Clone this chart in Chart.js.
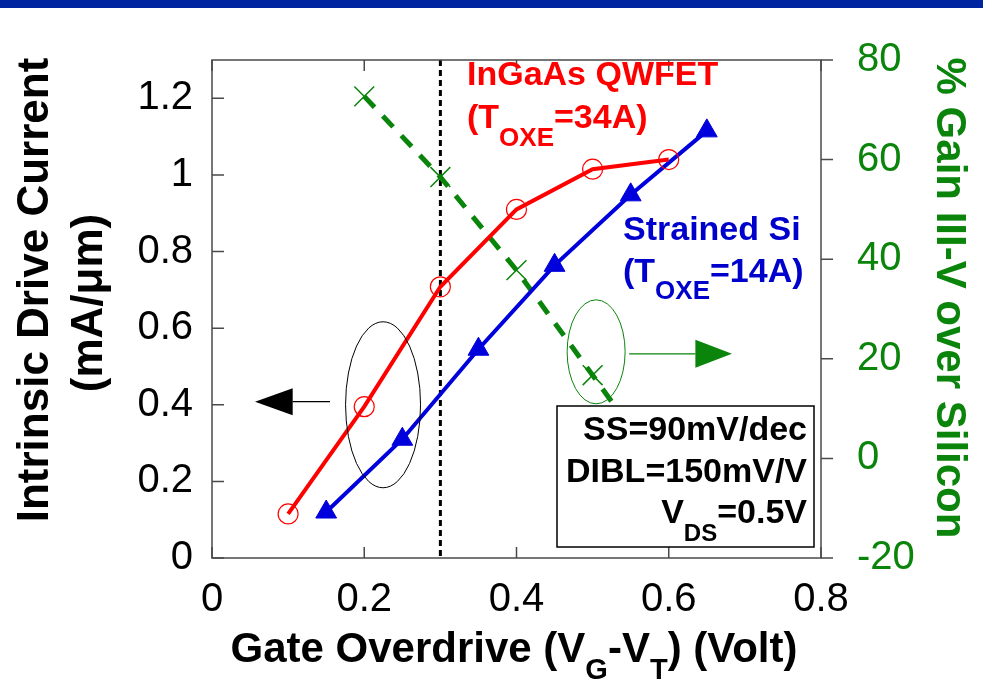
<!DOCTYPE html>
<html>
<head>
<meta charset="utf-8">
<title>Intrinsic drive current vs gate overdrive</title>
<script src="https://cdn.jsdelivr.net/npm/chart.js@4/dist/chart.umd.min.js"></script>
<style>
  html, body { margin: 0; padding: 0; background: #fff; }
  #banner { position: absolute; left: 0; top: 0; width: 983px; height: 8px; background: #0025a0; }
  canvas { display: block; }
</style>
</head>
<body>
<div id="banner"></div>
<canvas id="driveChart" width="983" height="685"></canvas>
<script>
// InGaAs QWFET (Toxe = 34A)
const inGaAsVolts = [0.1, 0.2, 0.3, 0.4, 0.5, 0.6];
const inGaAsCurrent = [0.115, 0.395, 0.708, 0.91, 1.015, 1.04];

// Strained Si (Toxe = 14A)
const siVolts = [0.15, 0.25, 0.35, 0.45, 0.55, 0.65];
const siCurrent = [0.12, 0.31, 0.545, 0.764, 0.948, 1.115];

// % gain of III-V over silicon (last point sits under the legend box)
const gainVolts = [0.2, 0.3, 0.4, 0.5, 0.6];
const gainPct = [72.7, 56.5, 37.8, 16.7, -4.5];

const voltTicks = [0, 0.2, 0.4, 0.6, 0.8];
const currentTicks = [0, 0.2, 0.4, 0.6, 0.8, 1, 1.2];
const gainTicks = [-20, 0, 20, 40, 60, 80];

const refVoltage = 0.3;

const FONT = 'Arial, "Liberation Sans", Helvetica, sans-serif';
const RED = '#ff0000';
const BLUE = '#0000dd';
const GREEN = '#0a840a';

const toPoints = (xs, ys) => xs.map((x, i) => ({ x, y: ys[i] }));
const fixTicks = arr => scale => { scale.ticks = arr.map(v => ({ value: v })); };
const plainNum = v => String(Number(v.toFixed(2)));

// draws a line of text made of runs, some of them subscripted
function drawRuns(ctx, x, y, runs, color, align) {
  ctx.fillStyle = color;
  ctx.textBaseline = 'alphabetic';
  ctx.textAlign = 'left';
  let total = 0;
  runs.forEach(r => { ctx.font = r.font; total += ctx.measureText(r.text).width; });
  let cx = align === 'right' ? x - total : align === 'center' ? x - total / 2 : x;
  runs.forEach(r => {
    ctx.font = r.font;
    ctx.fillText(r.text, cx, y + (r.dy || 0));
    cx += ctx.measureText(r.text).width;
  });
}

const big = 'bold 34px ' + FONT;
const sub = 'bold 26px ' + FONT;

const decorations = {
  id: 'decorations',
  beforeDatasetsDraw(chart) {
    const { ctx, chartArea: a, scales } = chart;
    const x = scales.x, y = scales.y, y2 = scales.y2;
    ctx.save();

    // dashed reference line
    ctx.strokeStyle = '#000';
    ctx.lineWidth = 3;
    ctx.setLineDash([6, 4]);
    const xr = x.getPixelForValue(refVoltage);
    ctx.beginPath();
    ctx.moveTo(xr, a.top);
    ctx.lineTo(xr, a.bottom);
    ctx.stroke();
    ctx.setLineDash([]);

    // frame
    ctx.strokeStyle = '#4a4a4a';
    ctx.lineWidth = 1.5;
    ctx.strokeRect(a.left, a.top, a.right - a.left, a.bottom - a.top);

    // tick marks: inward on left/top/bottom, outward on right
    ctx.beginPath();
    voltTicks.forEach(v => {
      const px = x.getPixelForValue(v);
      ctx.moveTo(px, a.bottom); ctx.lineTo(px, a.bottom - 11);
      ctx.moveTo(px, a.top); ctx.lineTo(px, a.top + 11);
    });
    currentTicks.forEach(v => {
      const py = y.getPixelForValue(v);
      ctx.moveTo(a.left, py); ctx.lineTo(a.left + 12, py);
    });
    gainTicks.forEach(v => {
      const py = y2.getPixelForValue(v);
      ctx.moveTo(a.right, py); ctx.lineTo(a.right + 12, py);
    });
    ctx.stroke();
    ctx.restore();
  },
  afterDatasetsDraw(chart) {
    const { ctx, chartArea: a, scales } = chart;
    const x = scales.x, y = scales.y, y2 = scales.y2;
    ctx.save();

    // ellipse round the current curves, arrow to the left axis
    ctx.lineWidth = 1;
    ctx.strokeStyle = '#000';
    ctx.beginPath();
    ctx.ellipse(x.getPixelForValue(0.2247), y.getPixelForValue(0.40), 37.5, 83, 0, 0, Math.PI * 2);
    ctx.stroke();
    const ly = y.getPixelForValue(0.408);
    ctx.lineWidth = 1.3;
    ctx.beginPath();
    ctx.moveTo(x.getPixelForValue(0.155), ly);
    ctx.lineTo(x.getPixelForValue(0.106), ly);
    ctx.stroke();
    ctx.fillStyle = '#000';
    ctx.beginPath();
    ctx.moveTo(x.getPixelForValue(0.0565), ly);
    ctx.lineTo(x.getPixelForValue(0.106), ly - 13.5);
    ctx.lineTo(x.getPixelForValue(0.106), ly + 13.5);
    ctx.closePath();
    ctx.fill();

    // ellipse round the gain curve, arrow to the right axis
    ctx.strokeStyle = GREEN;
    ctx.lineWidth = 1;
    ctx.beginPath();
    ctx.ellipse(x.getPixelForValue(0.5046), y2.getPixelForValue(21.4), 29, 52, 0, 0, Math.PI * 2);
    ctx.stroke();
    const gy = y2.getPixelForValue(21.0);
    ctx.lineWidth = 1.3;
    ctx.beginPath();
    ctx.moveTo(x.getPixelForValue(0.548), gy);
    ctx.lineTo(x.getPixelForValue(0.635), gy);
    ctx.stroke();
    ctx.fillStyle = GREEN;
    ctx.beginPath();
    ctx.moveTo(x.getPixelForValue(0.683), gy);
    ctx.lineTo(x.getPixelForValue(0.635), gy - 14);
    ctx.lineTo(x.getPixelForValue(0.635), gy + 14);
    ctx.closePath();
    ctx.fill();

    // conditions box
    ctx.fillStyle = '#fff';
    ctx.fillRect(557, 406, 257, 141);
    ctx.strokeStyle = '#000';
    ctx.lineWidth = 1.5;
    ctx.strokeRect(557, 406, 257, 141);
    drawRuns(ctx, 807, 440, [{ text: 'SS=90mV/dec', font: big }], '#000', 'right');
    drawRuns(ctx, 807, 482, [{ text: 'DIBL=150mV/V', font: big }], '#000', 'right');
    drawRuns(ctx, 807, 523, [
      { text: 'V', font: big },
      { text: 'DS', font: 'bold 24px ' + FONT, dy: 18 },
      { text: '=0.5V', font: big }
    ], '#000', 'right');

    // series labels
    drawRuns(ctx, 467, 85, [{ text: 'InGaAs QWFET', font: big }], RED, 'left');
    drawRuns(ctx, 467, 128, [
      { text: '(T', font: big },
      { text: 'OXE', font: sub, dy: 18 },
      { text: '=34A)', font: big }
    ], RED, 'left');
    drawRuns(ctx, 623, 240, [{ text: 'Strained Si', font: big }], '#0000cc', 'left');
    drawRuns(ctx, 623, 282, [
      { text: '(T', font: big },
      { text: 'OXE', font: sub, dy: 17 },
      { text: '=14A)', font: big }
    ], '#0000cc', 'left');

    // axis titles
    const title = 'bold 42px ' + FONT;
    drawRuns(ctx, 514, 662, [
      { text: 'Gate Overdrive (V', font: title },
      { text: 'G', font: 'bold 29px ' + FONT, dy: 17 },
      { text: '-V', font: title },
      { text: 'T', font: 'bold 29px ' + FONT, dy: 17 },
      { text: ') (Volt)', font: title }
    ], '#000', 'center');

    const leftTitle = 'bold 44px ' + FONT;
    ctx.save();
    ctx.translate(48, 290);
    ctx.rotate(-Math.PI / 2);
    drawRuns(ctx, 0, 0, [{ text: 'Intrinsic Drive Current', font: leftTitle }], '#000', 'center');
    ctx.restore();
    ctx.save();
    ctx.translate(102, 303);
    ctx.rotate(-Math.PI / 2);
    drawRuns(ctx, 0, 0, [{ text: '(mA/\u03bcm)', font: leftTitle }], '#000', 'center');
    ctx.restore();
    ctx.save();
    ctx.translate(937, 298);
    ctx.rotate(Math.PI / 2);
    drawRuns(ctx, 0, 0, [{ text: '% Gain III-V over Silicon', font: title }], GREEN, 'center');
    ctx.restore();

    ctx.restore();
  }
};

new Chart(document.getElementById('driveChart'), {
  type: 'scatter',
  data: {
    datasets: [
      {
        label: 'InGaAs QWFET',
        data: toPoints(inGaAsVolts, inGaAsCurrent),
        yAxisID: 'y',
        showLine: true,
        borderColor: RED,
        borderWidth: 4,
        pointStyle: 'circle',
        pointRadius: 10,
        pointBorderWidth: 1.2,
        pointBorderColor: RED,
        pointBackgroundColor: 'rgba(0,0,0,0)'
      },
      {
        label: 'Strained Si',
        data: toPoints(siVolts, siCurrent),
        yAxisID: 'y',
        showLine: true,
        borderColor: BLUE,
        borderWidth: 4,
        pointStyle: 'triangle',
        pointRadius: 12,
        pointBorderWidth: 1,
        pointBorderColor: BLUE,
        pointBackgroundColor: BLUE
      },
      {
        label: '% Gain III-V over Silicon',
        data: toPoints(gainVolts, gainPct),
        yAxisID: 'y2',
        showLine: true,
        borderColor: GREEN,
        borderWidth: 5,
        borderDash: [15, 12],
        pointStyle: 'crossRot',
        pointRadius: [14, 14, 14, 14, 0],
        pointBorderWidth: 1.5,
        pointBorderColor: GREEN
      }
    ]
  },
  options: {
    responsive: false,
    animation: false,
    devicePixelRatio: 1,
    layout: { padding: { top: 51, left: 0, right: 0, bottom: 0 } },
    plugins: { legend: { display: false }, tooltip: { enabled: false } },
    scales: {
      x: {
        type: 'linear',
        min: 0, max: 0.8,
        afterBuildTicks: fixTicks(voltTicks),
        afterFit: s => { s.height = 127; },
        grid: { display: false, drawTicks: false },
        border: { display: false },
        ticks: { color: '#000', padding: 18, callback: plainNum, font: { family: FONT, size: 40 } }
      },
      y: {
        type: 'linear',
        position: 'left',
        min: 0, max: 1.3,
        afterBuildTicks: fixTicks(currentTicks),
        afterFit: s => { s.width = 212; },
        grid: { display: false, drawTicks: false },
        border: { display: false },
        ticks: { color: '#000', padding: 19, callback: plainNum, font: { family: FONT, size: 40 } }
      },
      y2: {
        type: 'linear',
        position: 'right',
        min: -20, max: 80,
        afterBuildTicks: fixTicks(gainTicks),
        afterFit: s => { s.width = 162; },
        grid: { display: false, drawTicks: false },
        border: { display: false },
        ticks: { color: GREEN, padding: 36, callback: plainNum, font: { family: FONT, size: 40 } }
      }
    }
  },
  plugins: [decorations]
});
</script>
</body>
</html>
